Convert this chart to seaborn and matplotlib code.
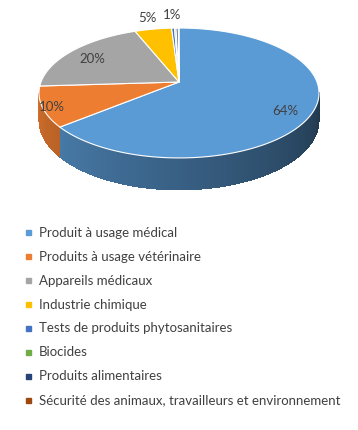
import numpy as np
import matplotlib
matplotlib.use("Agg")
import matplotlib.pyplot as plt
import seaborn as sns
from matplotlib.patches import Polygon
from matplotlib.lines import Line2D

categories = ["Produit à usage médical", "Produits à usage vétérinaire",
              "Appareils médicaux", "Industrie chimique",
              "Tests de produits phytosanitaires", "Biocides",
              "Produits alimentaires",
              "Sécurité des animaux, travailleurs et environnement"]
values = [64, 10, 20, 5, 0.4, 0.2, 0.3, 0.1]
labels = ["64%", "10%", "20%", "5%", "1%", "", "", ""]
colors = ["#5B9BD5", "#ED7D31", "#A5A5A5", "#FFC000",
          "#4472C4", "#70AD47", "#264478", "#9E480E"]

sns.set_style("white")
plt.rcParams['font.family'] = ['Lato', 'DejaVu Sans']

fig = plt.figure(figsize=(3.58, 4.30), dpi=100)
ax = fig.add_axes([0, 0, 1, 1])
ax.set_xlim(0, 358)
ax.set_ylim(430, 0)
ax.axis("off")

# projection parameters (pixel space, perspective)
cx, cy, A, B, k, D = 179.0, 82.0, 138.0, 63.1, 0.169, 26.6


def proj(theta_deg, r=1.0, drop=0.0):
    t = np.radians(theta_deg)
    u = r * np.cos(t)
    v = r * np.sin(t)
    den = 1 + k * v
    return cx + A * u / den, cy - B * v / den + drop / den


total = float(sum(values))
starts, ends = [], []
a = 90.0
for v in values:
    starts.append(a)
    a -= 360.0 * v / total
    ends.append(a)

sil = np.degrees(np.arcsin(k))
vis_lo, vis_hi = -180 + sil, -sil  # visible side range


def shade(theta):
    return 0.88 - 0.52 * (theta - vis_lo) / (vis_hi - vis_lo)


# side walls (drawn as thin overlapping strips to form a gradient)
for s, e, c in zip(starts, ends, colors):
    rgb = np.array(matplotlib.colors.to_rgb(c))
    for shift in (-360, 0, 360):
        lo = max(e, vis_lo + shift)
        hi = min(s, vis_hi + shift)
        if hi <= lo:
            continue
        ts = np.linspace(lo, hi, max(2, int((hi - lo) / 0.5) + 2))
        for t0, t1 in zip(ts[:-1], ts[1:]):
            t1e = min(t1 + 0.4, hi)
            x0, y0 = proj(t0)
            x1, y1 = proj(t1e)
            _, yb0 = proj(t0, drop=D)
            _, yb1 = proj(t1e, drop=D)
            f = shade((t0 + t1) / 2 - shift)
            col = np.clip(rgb * f, 0, 1)
            ax.add_patch(Polygon([[x0, y0], [x1, y1], [x1, yb1], [x0, yb0]],
                                 closed=True, facecolor=col, edgecolor="none",
                                 linewidth=0, antialiased=False))

# top faces
for s, e, c in zip(starts, ends, colors):
    ts = np.linspace(s, e, max(3, int(abs(s - e) / 0.5) + 3))
    pts = [[cx, cy]] + [list(proj(t)) for t in ts]
    ax.add_patch(Polygon(pts, closed=True, facecolor=c, edgecolor="white",
                         linewidth=0.8, joinstyle="round"))

# data labels
label_r = [0.8, 0.93, 0.8, 1.25, 1.25, 1.25, 1.25, 1.25]
label_dy = [6, 2, 2, 0, -2, 0, 0, 0]
for s, e, lab, r, dy in zip(starts, ends, labels, label_r, label_dy):
    if not lab:
        continue
    x, y = proj((s + e) / 2, r=r)
    ax.text(x, y + dy, lab, ha="center", va="center", fontsize=9.5,
            color="#404040")

handles = [Line2D([], [], marker="s", linestyle="none", markersize=3.6,
                  markerfacecolor=c, markeredgecolor=c) for c in colors]
leg = ax.legend(handles, categories, loc="upper left",
                bbox_to_anchor=(24 / 358, 1 - 227 / 430), frameon=False,
                fontsize=9.5, handlelength=0.6, handletextpad=0.55,
                labelspacing=0.9, borderaxespad=0, borderpad=0)
for t in leg.get_texts():
    t.set_color("#404040")

fig.savefig("out.png", dpi=100)
